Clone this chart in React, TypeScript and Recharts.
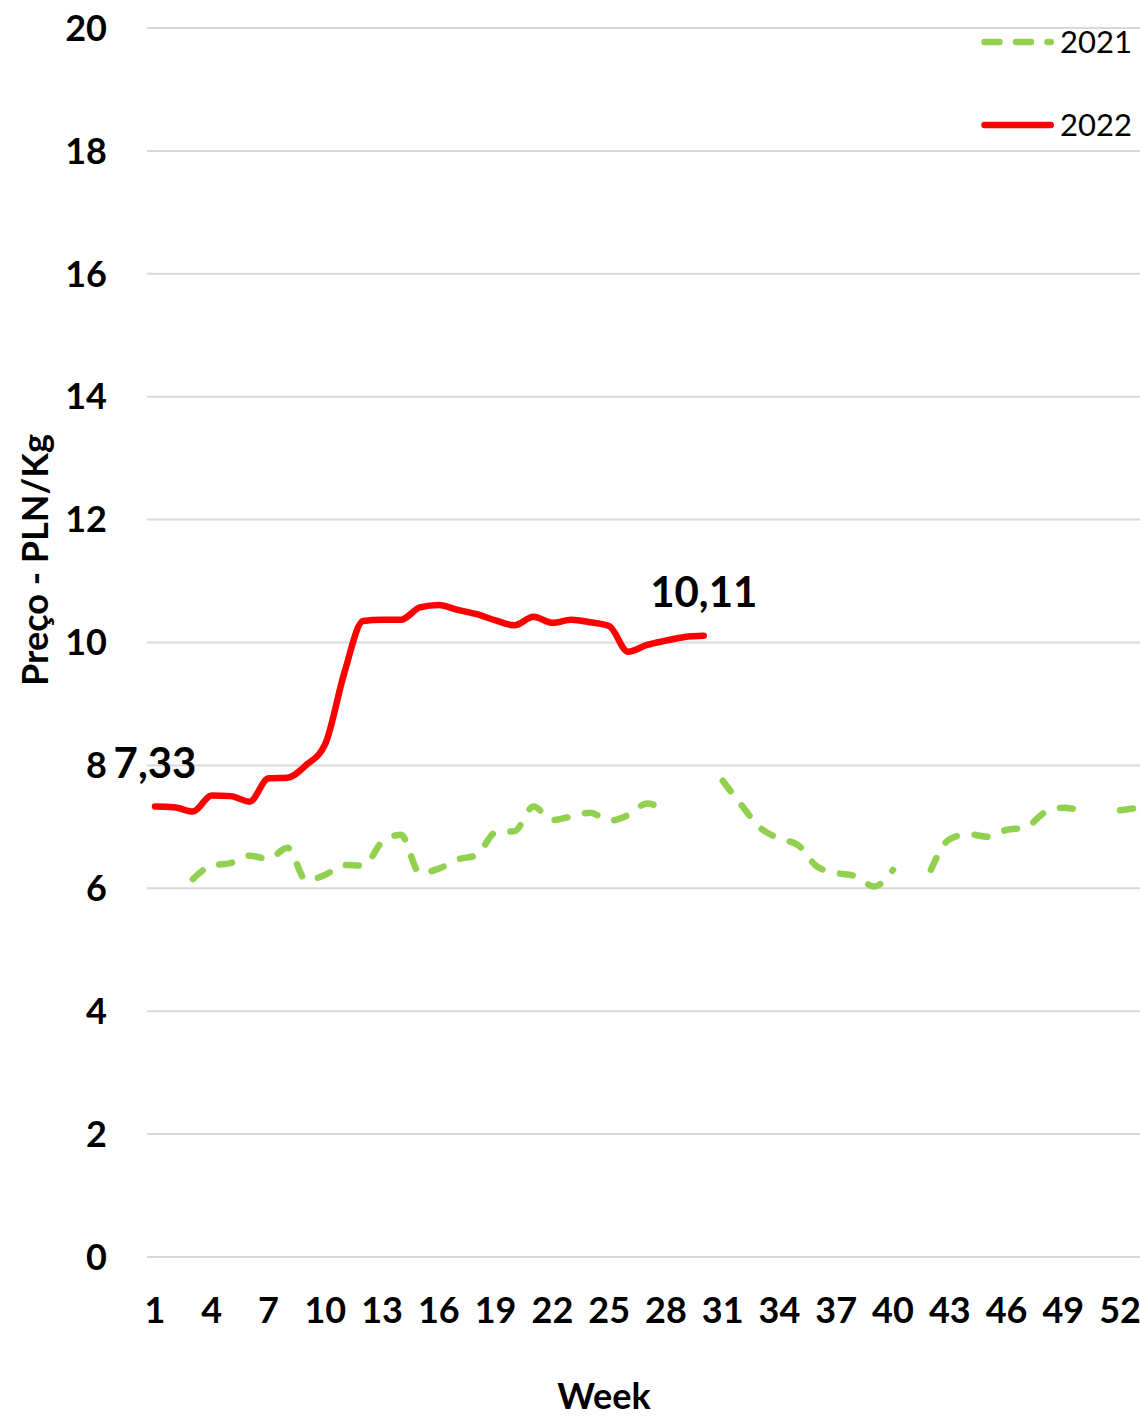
import React from "react";
import {
  LineChart,
  Line,
  XAxis,
  YAxis,
  CartesianGrid,
  Legend,
  LabelList,
  Label,
} from "recharts";

// Week numbers on the category axis
const weeks = [
  1, 2, 3, 4, 5, 6, 7, 8, 9, 10, 11, 12, 13, 14, 15, 16, 17, 18, 19, 20, 21,
  22, 23, 24, 25, 26, 27, 28, 29, 30, 31, 32, 33, 34, 35, 36, 37, 38, 39, 40,
  41, 42, 43, 44, 45, 46, 47, 48, 49, 50, 51, 52, 53,
];

// Price 2021 (PLN/Kg), null where the line has a gap
const prices2021: (number | null)[] = [
  null, null, 6.15, 6.37, 6.41, 6.53, 6.48, 6.66, 6.13, 6.22, 6.38, 6.37,
  6.75, 6.87, 6.25, 6.32, 6.47, 6.54, 6.91, 6.93, 7.33, 7.11, 7.17, 7.23,
  7.1, 7.19, 7.38, 7.26, null, null, 7.75, 7.35, 6.98, 6.81, 6.7, 6.35,
  6.25, 6.2, 6.03, 6.3, null, 6.3, 6.8, 6.88, 6.84, 6.95, 6.99, 7.23,
  7.31, 7.26, null, 7.27, 7.31,
];

// Price 2022 (PLN/Kg), weeks 1-30
const prices2022: number[] = [
  7.33, 7.32, 7.25, 7.51, 7.5, 7.41, 7.79, 7.8, 8.01, 8.35, 9.5, 10.35,
  10.37, 10.37, 10.57, 10.61, 10.53, 10.46, 10.36, 10.28, 10.42, 10.32,
  10.37, 10.33, 10.27, 9.85, 9.96, 10.03, 10.09, 10.11,
];

const yTicks = [0, 2, 4, 6, 8, 10, 12, 14, 16, 18, 20];

// weeks whose 2022 value is written on the chart
const labelledWeeks = [1, 30];

const data = weeks.map((week, i) => ({
  week,
  y2021: prices2021[i] ?? null,
  y2022: prices2022[i] ?? null,
}));

const FONT = "Lato, 'Open Sans', sans-serif";
const GREEN = "#92D050";
const RED = "#FF0000";
const DASH = "13 18";

const renderValueLabel = (props: any) => {
  const { value, index } = props;
  const x = props.x ?? props.viewBox?.x;
  const y = props.y ?? props.viewBox?.y;
  if (value == null || !labelledWeeks.includes(weeks[index])) return null;
  return (
    <text
      x={x}
      y={y - 29}
      textAnchor="middle"
      fontFamily={FONT}
      fontWeight={700}
      fontSize={42}
      fill="#000"
    >
      {Number(value).toFixed(2).replace(".", ",")}
    </text>
  );
};

const LegendContent = (props: any) => {
  const items = props.payload || [];
  return (
    <svg width={166} height={130} style={{ display: "block" }}>
      {items.map((entry: any, i: number) => {
        const y = 28 + i * 83;
        const dashed = entry.value === "2021";
        return (
          <g key={entry.value}>
            <line
              x1={10.5}
              y1={y}
              x2={76.7}
              y2={y}
              stroke={entry.color}
              strokeWidth={6.5}
              strokeLinecap="round"
              strokeDasharray={dashed ? "15 16.5" : undefined}
            />
            <text
              x={86}
              y={y + 10.5}
              fontFamily={FONT}
              fontSize={31}
              fill="#000"
            >
              {entry.value}
            </text>
          </g>
        );
      })}
    </svg>
  );
};

// body margin removed so the chart fills the whole 1140 x 1419 page
const PriceChart: React.FC = () => {
  return (
    <div style={{ width: 1140, height: 1419 }}>
      <style>{"body { margin: 0; }"}</style>
      <LineChart
        width={1140}
        height={1419}
        data={data}
        margin={{ top: 28, right: 0, left: 8, bottom: 0 }}
      >
        <CartesianGrid vertical={false} stroke="#d9d9d9" strokeWidth={2} />
        <XAxis
          dataKey="week"
          type="category"
          interval={2}
          height={162}
          padding={{ left: 8, right: 1 }}
          tickLine={false}
          axisLine={false}
          tickMargin={34}
          tick={{ fill: "#000", fontSize: 36, fontWeight: 700, fontFamily: FONT }}
        >
          <Label
            content={() => (
              <text
                x={604}
                y={1409}
                textAnchor="middle"
                fontFamily={FONT}
                fontWeight={700}
                fontSize={36}
                fill="#000"
              >
                Week
              </text>
            )}
          />
        </XAxis>
        <YAxis
          domain={[0, 20]}
          ticks={yTicks}
          width={139}
          tickLine={false}
          axisLine={false}
          tickMargin={34}
          tick={{ fill: "#000", fontSize: 36, fontWeight: 700, fontFamily: FONT }}
        >
          <Label
            content={() => (
              <text
                x={48}
                y={560}
                transform="rotate(-90, 48, 560)"
                textAnchor="middle"
                fontFamily={FONT}
                fontWeight={700}
                fontSize={36}
                fill="#000"
              >
                Preço - PLN/Kg
              </text>
            )}
          />
        </YAxis>
        <Legend
          layout="vertical"
          align="center"
          verticalAlign="middle"
          content={<LegendContent />}
          wrapperStyle={{ top: 14, left: 974, width: 166, height: 130 }}
        />
        <Line
          name="2021"
          dataKey="y2021"
          type="monotone"
          stroke={GREEN}
          strokeWidth={6.5}
          strokeDasharray={DASH}
          strokeLinecap="round"
          dot={false}
          activeDot={false}
          isAnimationActive={false}
        />
        <Line
          name="2022"
          dataKey="y2022"
          type="monotone"
          stroke={RED}
          strokeWidth={6.5}
          strokeLinecap="round"
          dot={false}
          activeDot={false}
          isAnimationActive={false}
        >
          <LabelList dataKey="y2022" content={renderValueLabel} />
        </Line>
      </LineChart>
    </div>
  );
};

export default function App() {
  return <PriceChart />;
}
